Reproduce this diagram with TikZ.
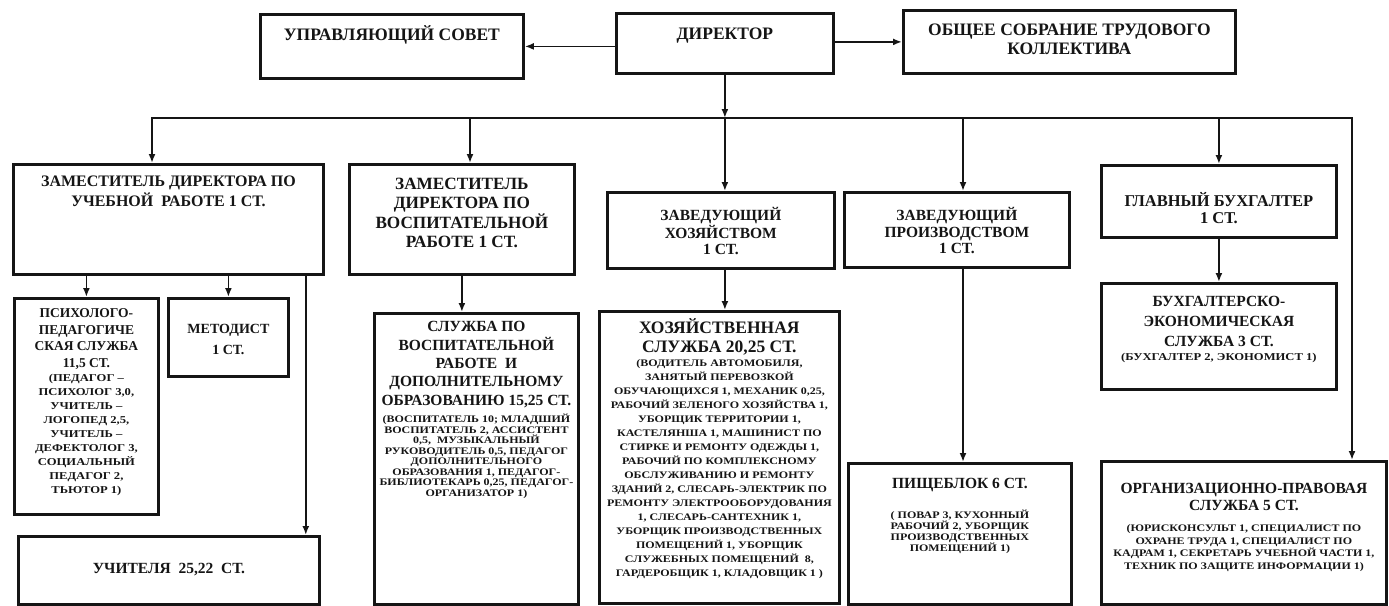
\documentclass[tikz,border=0pt]{standalone}
\usepackage{fontspec}
\setmainfont{Liberation Serif}
\newfontfamily\detfont{Liberation Serif}[FakeStretch=1.2]
\usepackage{tikz}
\usetikzlibrary{arrows.meta}
\definecolor{inkcolor}{HTML}{151515}
\colorlet{boxline}{inkcolor}
\colorlet{textcolor}{inkcolor}
\newcommand{\titlesz}[2]{\bfseries\fontsize{#1}{#2}\selectfont}
\newcommand{\detailsz}[2]{\detfont\bfseries\fontsize{#1}{#2}\selectfont}
\newcommand{\boxtext}[5]{% width, height, top pad, font, lines
\begin{minipage}[c][#2][t]{#1}#4\centering
\vspace*{#3}\rule{0pt}{1em}#5\par
\end{minipage}}
\tikzstyle{orgbox} = [
    draw=boxline,
    line width=2.8pt,
    rectangle,
    inner sep=0pt,
    anchor=north west,
    text=textcolor
    ]
\tikzstyle{link} = [draw=boxline, line width=1.8pt]
\tikzstyle{arr} = [link, -{Latex[length=9pt,width=7pt]}]

\begin{document}
\begin{tikzpicture}[x=1pt,y=-1pt]
\path[use as bounding box, fill=white] (0,0) rectangle (1389,605);

\node[orgbox] (sovet) at (259,13) {\boxtext{263pt}{64pt}{8.3pt}{\titlesz{17.5}{19}}{УПРАВЛЯЮЩИЙ СОВЕТ}};
\node[orgbox] (dir) at (615,12) {\boxtext{217pt}{60pt}{8.3pt}{\titlesz{17.5}{19}}{ДИРЕКТОР}};
\node[orgbox] (obsh) at (902,9) {\boxtext{332pt}{63pt}{7.3pt}{\titlesz{17.5}{19}}{ОБЩЕЕ СОБРАНИЕ ТРУДОВОГО\\КОЛЛЕКТИВА}};

\node[orgbox] (zamu) at (12,163) {\boxtext{310pt}{110pt}{6.3pt}{\titlesz{16}{20}}{ЗАМЕСТИТЕЛЬ ДИРЕКТОРА ПО\\УЧЕБНОЙ\ \ РАБОТЕ 1 СТ.}};
\node[orgbox] (zamv) at (348,163) {\boxtext{225pt}{110pt}{7.4pt}{\titlesz{17.2}{19.5}}{ЗАМЕСТИТЕЛЬ\\ДИРЕКТОРА ПО\\ВОСПИТАТЕЛЬНОЙ\\РАБОТЕ 1 СТ.}};
\node[orgbox] (zavh) at (606,191) {\boxtext{227pt}{76pt}{12.6pt}{\titlesz{15.5}{16.5}}{ЗАВЕДУЮЩИЙ\\ХОЗЯЙСТВОМ\\1 СТ.}};
\node[orgbox] (zavp) at (843,191) {\boxtext{225pt}{75pt}{12.6pt}{\titlesz{15.5}{16.5}}{ЗАВЕДУЮЩИЙ\\ПРОИЗВОДСТВОМ\\1 СТ.}};
\node[orgbox] (glavb) at (1100,164) {\boxtext{235pt}{72pt}{25pt}{\titlesz{16.5}{17}}{ГЛАВНЫЙ БУХГАЛТЕР\\1 СТ.}};

\node[orgbox] (psych) at (13,297) {\boxtext{144pt}{216pt}{6pt}{\titlesz{13.5}{16.5}}{ПСИХОЛОГО-\\ПЕДАГОГИЧЕ\\СКАЯ СЛУЖБА\\11,5 СТ.\par
    \detailsz{10.5}{14}(ПЕДАГОГ –\\ПСИХОЛОГ 3,0,\\УЧИТЕЛЬ –\\ЛОГОПЕД 2,5,\\УЧИТЕЛЬ –\\ДЕФЕКТОЛОГ 3,\\СОЦИАЛЬНЫЙ\\ПЕДАГОГ 2,\\ТЬЮТОР 1)}};
\node[orgbox] (metod) at (167,297) {\boxtext{120pt}{78pt}{20.6pt}{\titlesz{14}{21}}{МЕТОДИСТ\\1 СТ.}};
\node[orgbox] (uchit) at (17,535) {\boxtext{301pt}{68pt}{21.6pt}{\titlesz{15.5}{19}}{УЧИТЕЛЯ\ \ 25,22\ \ СТ.}};

\node[orgbox] (sluzhv) at (373,312) {\boxtext{204pt}{291pt}{3pt}{\titlesz{15.5}{18.3}}{СЛУЖБА ПО\\ВОСПИТАТЕЛЬНОЙ\\РАБОТЕ\ \ И\\ДОПОЛНИТЕЛЬНОМУ\\ОБРАЗОВАНИЮ 15,25 СТ.\par
    \vspace{5.6pt}\detailsz{10}{10.5}(ВОСПИТАТЕЛЬ 10; МЛАДШИЙ\\ВОСПИТАТЕЛЬ 2, АССИСТЕНТ\\0,5,\ \ МУЗЫКАЛЬНЫЙ\\РУКОВОДИТЕЛЬ 0,5, ПЕДАГОГ\\ДОПОЛНИТЕЛЬНОГО\\ОБРАЗОВАНИЯ 1, ПЕДАГОГ-\\БИБЛИОТЕКАРЬ 0,25, ПЕДАГОГ-\\ОРГАНИЗАТОР 1)}};
\node[orgbox] (hozs) at (598,310) {\boxtext{240pt}{292pt}{4.5pt}{\titlesz{17.5}{19}}{ХОЗЯЙСТВЕННАЯ\\СЛУЖБА 20,25 СТ.\par
    \vspace{0pt}\detailsz{10}{14}(ВОДИТЕЛЬ АВТОМОБИЛЯ,\\ЗАНЯТЫЙ ПЕРЕВОЗКОЙ\\ОБУЧАЮЩИХСЯ 1, МЕХАНИК 0,25,\\РАБОЧИЙ ЗЕЛЕНОГО ХОЗЯЙСТВА 1,\\УБОРЩИК ТЕРРИТОРИИ 1,\\КАСТЕЛЯНША 1, МАШИНИСТ ПО\\СТИРКЕ И РЕМОНТУ ОДЕЖДЫ 1,\\РАБОЧИЙ ПО КОМПЛЕКСНОМУ\\ОБСЛУЖИВАНИЮ И РЕМОНТУ\\ЗДАНИЙ 2, СЛЕСАРЬ-ЭЛЕКТРИК ПО\\РЕМОНТУ ЭЛЕКТРООБОРУДОВАНИЯ\\1, СЛЕСАРЬ-САНТЕХНИК 1,\\УБОРЩИК ПРОИЗВОДСТВЕННЫХ\\ПОМЕЩЕНИЙ 1, УБОРЩИК\\СЛУЖЕБНЫХ ПОМЕЩЕНИЙ\ \ 8,\\ГАРДЕРОБЩИК 1, КЛАДОВЩИК 1 )}};
\node[orgbox] (pish) at (847,462) {\boxtext{223pt}{141pt}{10pt}{\titlesz{15.5}{19}}{ПИЩЕБЛОК 6 СТ.\par
    \vspace{16.3pt}\detailsz{10}{10.5}( ПОВАР 3, КУХОННЫЙ\\РАБОЧИЙ 2, УБОРЩИК\\ПРОИЗВОДСТВЕННЫХ\\ПОМЕЩЕНИЙ 1)}};
\node[orgbox] (buhe) at (1100,282) {\boxtext{235pt}{106pt}{8pt}{\titlesz{15.5}{20}}{БУХГАЛТЕРСКО-\\ЭКОНОМИЧЕСКАЯ\\СЛУЖБА 3 СТ.\par
    \vspace{2.5pt}\detailsz{10.5}{11}(БУХГАЛТЕР 2, ЭКОНОМИСТ 1)}};
\node[orgbox] (org) at (1100,460) {\boxtext{285pt}{143pt}{16.6pt}{\titlesz{15.5}{16.5}}{ОРГАНИЗАЦИОННО-ПРАВОВАЯ\\СЛУЖБА 5 СТ.\par
    \vspace{9.2pt}\detailsz{10}{12.5}(ЮРИСКОНСУЛЬТ 1, СПЕЦИАЛИСТ ПО\\ОХРАНЕ ТРУДА 1, СПЕЦИАЛИСТ ПО\\КАДРАМ 1, СЕКРЕТАРЬ УЧЕБНОЙ ЧАСТИ 1,\\ТЕХНИК ПО ЗАЩИТЕ ИНФОРМАЦИИ 1)}};

% top row
\draw[arr] (dir.west |- sovet.east) -- (sovet.east);
\draw[arr] (dir.east |- obsh.west) -- (obsh.west);

% bus under the director
\coordinate (busL) at (152,118);
\coordinate (busR) at (1352,118);
\coordinate (bus2) at (470,118);
\coordinate (bus4) at (963,118);
\draw[link, line cap=rect] (busL) -- (busR);
\draw[arr] (dir.south) -- (dir.south |- busL);
\draw[arr] (busL) -- (busL |- zamu.north);
\draw[arr] (bus2) -- (bus2 |- zamv.north);
\draw[arr] (dir.south |- busL) -- (dir.south |- zavh.north);
\draw[arr] (bus4) -- (bus4 |- zavp.north);
\draw[arr] (glavb.north |- busL) -- (glavb.north);
\draw[arr] (busR) -- (busR |- org.north);

% second level
\coordinate (uline) at ([xshift=-19pt]zamu.south east);
\draw[arr] (zamu.south -| psych.north) -- (psych.north);
\draw[arr] (zamu.south -| metod.north) -- (metod.north);
\draw[arr] (uline) -- (uline |- uchit.north);
\draw[arr] (zamv.south) -- (zamv.south |- sluzhv.north);
\draw[arr] (dir.south |- zavh.south) -- (dir.south |- hozs.north);
\draw[arr] (bus4 |- zavp.south) -- (bus4 |- pish.north);
\draw[arr] (glavb.south) -- (buhe.north);
\end{tikzpicture}
\end{document}
